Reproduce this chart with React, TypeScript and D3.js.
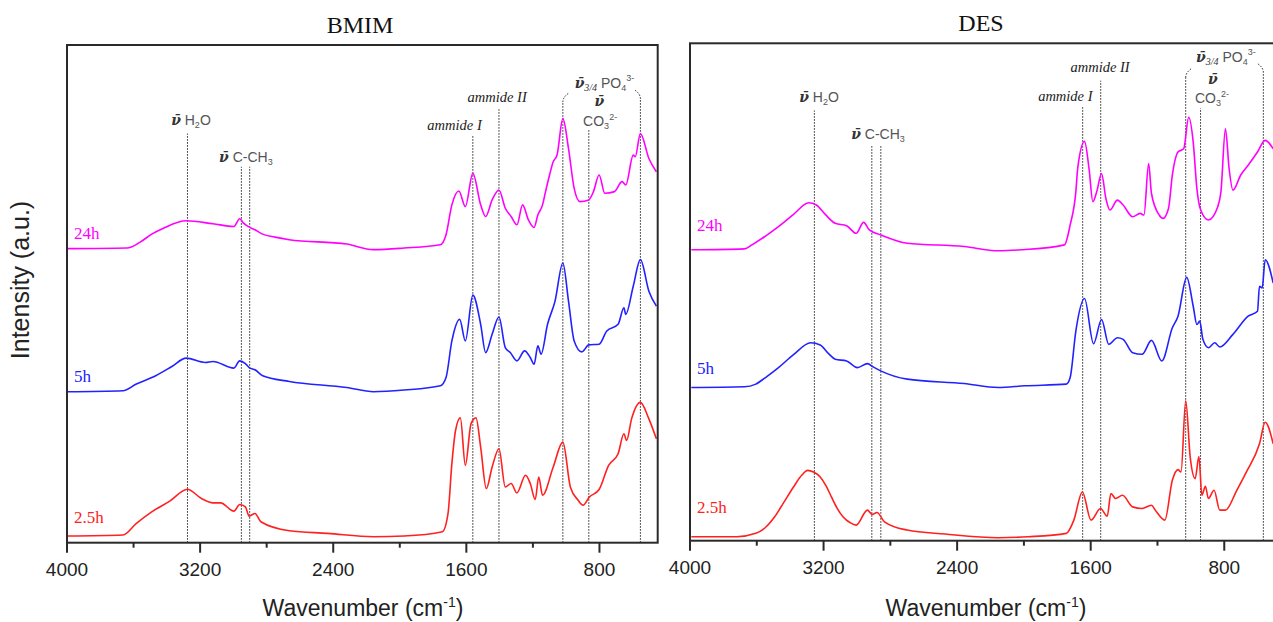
import React from "react";
import * as d3 from "d3";

const WIDTH = 1273;
const HEIGHT = 622;

// ---- axis / tick definitions ----
const wnDomain: [number, number] = [4000, 450];
const yDomain: [number, number] = [0, 500];
const majorTicks = [4000, 3200, 2400, 1600, 800];
const minorTicks = [3600, 2800, 2000, 1200];
const timeLabels = ["24h", "5h", "2.5h"];
const seriesColors = ["#ff00ff", "#2222ff", "#ff2020"];
const panelTitles = ["BMIM", "DES"];

// ---- BMIM spectra: [wavenumber, intensity a.u.] ----
const bmim24h: [number, number][] = [
  [3996, 295.4], [3640, 296], [3560, 302], [3491, 310], [3420, 316], [3284, 323.4], [3123, 320.4], [2997, 317.7],
  [2962, 325.4], [2939, 321], [2893, 316], [2871, 314.4], [2824, 310], [2750, 307], [2664, 304.4],
  [2319, 300], [2158, 294.4], [1974, 296], [1756, 299.4], [1722, 309.4], [1687, 339.4],
  [1645, 353.4], [1606, 337.7], [1561, 371], [1514, 339.4], [1484, 327.7], [1445, 344.4],
  [1404, 354.4], [1366, 336], [1331, 327.7], [1296, 319.4], [1262, 339.4], [1227, 324.4],
  [1193, 316.7], [1170, 329.4], [1142, 339.4], [1124, 352.7], [1100, 369.4], [1078, 382.7],
  [1055, 389.4], [1020, 426], [986, 396], [952, 356], [917, 342.7], [864, 344.4],
  [836, 352.7], [802, 369.4], [768, 351], [710, 352.7], [664, 362.7], [642, 359.4],
  [597, 389.4], [585, 387.7], [554, 411], [503, 386], [458, 372.7],
];
const bmim5h: [number, number][] = [
  [3996, 151.7], [3664, 152.7], [3583, 159.4], [3467, 167.7], [3370, 177], [3284, 185.4], [3169, 181],
  [3123, 182], [2997, 175.4], [2962, 182.7], [2928, 180], [2905, 176], [2870, 173.7],
  [2824, 167.7], [2664, 162], [2319, 156], [2158, 151.7], [1974, 153.4], [1756, 157.7],
  [1722, 166], [1687, 202.7], [1640, 224.4], [1606, 202.7], [1561, 248.7], [1514, 219.4],
  [1484, 191], [1445, 209.4], [1404, 226.7], [1366, 196], [1336, 191], [1296, 182.7],
  [1250, 192.7], [1216, 186], [1193, 179.4], [1170, 197.7], [1151, 189.4], [1112, 219.4],
  [1067, 242.7], [1020, 281], [986, 242.7], [952, 202.7], [906, 191.7], [864, 198.7],
  [802, 199.4], [756, 212.7], [688, 219.4], [653, 236], [642, 229.4], [597, 257.7],
  [554, 284.4], [503, 252.7], [458, 237.7],
];
const bmim2_5h: [number, number][] = [
  [3996, 6.7], [3664, 7.7], [3583, 19.4], [3491, 31], [3380, 42], [3277, 53.7], [3192, 44.4],
  [3123, 40], [3077, 40], [2997, 31.7], [2962, 38.4], [2928, 36], [2905, 26.7],
  [2870, 29.4], [2835, 21], [2664, 12], [2434, 9.4], [2158, 6], [1974, 6.7],
  [1744, 11], [1710, 29.4], [1687, 79.4], [1665, 112.7], [1636, 125.4], [1606, 77.7],
  [1572, 119.4], [1542, 125.4], [1514, 96], [1480, 54.4], [1445, 76], [1404, 94.4],
  [1366, 56], [1331, 59.4], [1296, 50], [1244, 67.7], [1216, 59.4], [1186, 43.4],
  [1165, 66], [1142, 47.7], [1078, 76], [1020, 101], [975, 56], [928, 42.7],
  [899, 37.7], [860, 46], [802, 53.4], [745, 77.7], [688, 89.4], [653, 109.4],
  [637, 102.7], [607, 124.4], [554, 141], [503, 124.4], [458, 104.4],
];

// ---- DES spectra ----
const des24h: [number, number][] = [
  [3992, 292.4], [3674, 293.4], [3629, 297.4], [3550, 306], [3470, 315.7], [3380, 328], [3289, 339.7], [3243, 337.4],
  [3190, 328], [3130, 319], [3062, 316.7], [3005, 309], [2960, 320], [2926, 312.4], [2858, 307.4],
  [2699, 299], [2358, 295.7], [2154, 291.4], [2018, 292.4], [1757, 297.4], [1723, 317.4],
  [1689, 350.7], [1678, 374], [1637, 401.4], [1610, 374], [1587, 340.7], [1564, 350.7],
  [1535, 369], [1509, 344], [1485, 332.4], [1440, 342.4], [1406, 337.4], [1349, 325.7],
  [1304, 329], [1281, 327.4], [1253, 379], [1236, 349], [1190, 327.4], [1167, 324],
  [1134, 334], [1111, 367.4], [1077, 390.7], [1043, 394], [1013, 425.7], [986, 400.7],
  [964, 354], [941, 332.4], [895, 322.4], [839, 335.7], [820, 350.7], [793, 414],
  [771, 374], [748, 352.4], [702, 367.4], [657, 377.4], [601, 390.7], [555, 402.4],
  [507, 394],
];
const des5h: [number, number][] = [
  [3992, 154], [3674, 154.7], [3606, 157.4], [3540, 165], [3470, 174], [3380, 187], [3277, 199], [3220, 196.7],
  [3170, 188], [3130, 182.4], [3062, 180.7], [2998, 174], [2937, 178], [2903, 174.7], [2858, 170.7],
  [2699, 162.4], [2358, 158], [2154, 154], [1995, 155.7], [1746, 157.4], [1723, 164],
  [1689, 210.7], [1637, 243.4], [1583, 198], [1535, 222.4], [1492, 197.4], [1440, 204],
  [1406, 202.4], [1349, 189], [1292, 187.4], [1236, 201.4], [1174, 180.7], [1111, 214],
  [1077, 225.7], [1025, 264.7], [986, 235.7], [964, 217.4], [947, 220.7], [928, 202.4],
  [895, 194], [857, 199], [827, 194.7], [748, 207.4], [657, 225.7], [601, 230.7],
  [589, 255.7], [573, 254], [555, 282.4], [507, 259],
];
const des2_5h: [number, number][] = [
  [3992, 4], [3720, 4], [3606, 7.4], [3550, 13], [3493, 24], [3440, 38], [3380, 54], [3330, 66], [3295, 70.7],
  [3260, 69], [3220, 64], [3185, 55], [3153, 44], [3120, 33], [3084, 24], [3040, 18], [3005, 15.7], [2937, 30.7], [2910, 26.4],
  [2880, 28.4], [2835, 19], [2699, 10.7], [2472, 6.7], [2154, 3], [1973, 4],
  [1746, 7.4], [1701, 20.7], [1650, 49], [1598, 20.7], [1541, 32.4], [1501, 24.7],
  [1479, 47.4], [1451, 42.4], [1410, 45.7], [1349, 34], [1292, 32.4], [1236, 35.7],
  [1213, 30.7], [1156, 20.7], [1111, 60.7], [1077, 71.4], [1059, 69], [1031, 140.7],
  [1004, 84], [974, 62.4], [952, 84.7], [934, 45.7], [913, 54.7], [895, 42.4],
  [861, 50.7], [827, 30.7], [793, 30.7], [725, 50.7], [668, 69], [589, 97.4],
  [555, 119], [507, 97.4],
];

// ---- annotation marker lines: wavenumber, top intensity ----
const bmimMarkers = [
  { wn: 3276, top: 411 }, { wn: 2952, top: 377.7 }, { wn: 2902, top: 377.7 },
  { wn: 1561, top: 409.7 }, { wn: 1404, top: 435.4 }, { wn: 1020, top: 442.7, slant: 1 },
  { wn: 864, top: 414.4 }, { wn: 554, top: 446, slant: -1 },
];
const desMarkers = [
  { wn: 3255, top: 432.4 }, { wn: 2911, top: 397.4 }, { wn: 2857, top: 397.4 },
  { wn: 1648, top: 435.7 }, { wn: 1540, top: 462.4 }, { wn: 1031, top: 465.7, slant: 1 },
  { wn: 942, top: 434.7 }, { wn: 566, top: 470.7, slant: -1 },
];
// annotation label anchors: [wavenumber, baseline intensity]
const bmimLabelPos = {
  h2o: [3255, 419.7], cch3: [2925, 382.7], am1: [1671, 414.7], am2: [1415, 442.7],
  po4: [770, 456.7], nu: [800, 438.7], co3: [796, 418.7],
};
const desLabelPos = {
  h2o: [3227, 440.7], cch3: [2874, 403.7], am1: [1752, 441.7], am2: [1544, 470.7],
  po4: [790, 481.7], nu: [868, 458.7], co3: [874, 439.7],
};
const bmimTimeLabelY = [304.7, 161, 19.7];
const desTimeLabelY = [311.7, 167.7, 27.7];

const panels = [
  {
    title: panelTitles[0], series: [bmim24h, bmim5h, bmim2_5h], markers: bmimMarkers,
    labels: bmimLabelPos, timeY: bmimTimeLabelY,
    left: 67, right: 657.7, top: 45, bottom: 542.7, titleX: 360, titleY: 33, xLabelX: 363,
  },
  {
    title: panelTitles[1], series: [des24h, des5h, des2_5h], markers: desMarkers,
    labels: desLabelPos, timeY: desTimeLabelY,
    left: 690, right: 1282.7, top: 43.3, bottom: 540.7, titleX: 981, titleY: 31, xLabelX: 986,
  },
];

const NU = "\u03BD\u0304";
const sans = "'Liberation Sans', Arial, sans-serif";
const serif = "'Liberation Serif', 'Times New Roman', serif";

function Nu() {
  return (
    <tspan fontFamily="'DejaVu Serif', serif" fontWeight="bold" fontStyle="italic" fill="#333">
      {NU}
    </tspan>
  );
}

function Panel({ p }: { p: (typeof panels)[number] }) {
  const x = d3.scaleLinear().domain(wnDomain).range([p.left, p.right]);
  const y = d3.scaleLinear().domain(yDomain).range([p.bottom, p.top]);
  const line = d3
    .line<[number, number]>()
    .x((d) => x(d[0]))
    .y((d) => y(d[1]))
    .curve(d3.curveMonotoneX);
  const L = p.labels as Record<string, number[]>;
  const annFill = "#555";
  return (
    <g>
      <text x={p.titleX} y={p.titleY} textAnchor="middle"
        fontFamily={serif} fontSize={24} fill="#111">{p.title}</text>
      {/* marker lines */}
      {p.markers.map((m, i) => {
        const mx = x(m.wn);
        const my = y(m.top);
        const s = (m as any).slant;
        return (
          <g key={i}>
            <line x1={mx} x2={mx} y1={p.bottom} y2={my} stroke="#222" strokeWidth={1}
              strokeDasharray="1.5,1.5" />
            {s ? (
              <path d={`M${mx},${my} Q${mx},${my - 5} ${mx + s * 6},${my - 9}`} fill="none" stroke="#222" strokeWidth={1}
                strokeDasharray="1.5,1.5" />
            ) : null}
          </g>
        );
      })}
      {/* spectra */}
      {p.series.map((s, i) => (
        <path key={i} d={line(s) || ""} fill="none" stroke={seriesColors[i]} strokeWidth={1.6}
          strokeLinejoin="round" />
      ))}
      {/* time labels */}
      {timeLabels.map((t, i) => (
        <text key={t} x={p.left + 7} y={y(p.timeY[i])} fontFamily={serif} fontSize={17}
          fill={seriesColors[i]}>{t}</text>
      ))}
      {/* annotation labels */}
      <text x={x(L.h2o[0])} y={y(L.h2o[1])} textAnchor="middle" fontFamily={sans} fontSize={14} fill={annFill}>
        <Nu /> H<tspan fontSize={9} dy={3}>2</tspan><tspan dy={-3}>O</tspan>
      </text>
      <text x={x(L.cch3[0])} y={y(L.cch3[1])} textAnchor="middle" fontFamily={sans} fontSize={14} fill={annFill}>
        <Nu /> C-CH<tspan fontSize={9} dy={3}>3</tspan>
      </text>
      <text x={x(L.am1[0])} y={y(L.am1[1])} textAnchor="middle" fontFamily={serif} fontStyle="italic"
        fontSize={14.5} fill="#222">ammide I</text>
      <text x={x(L.am2[0])} y={y(L.am2[1])} textAnchor="middle" fontFamily={serif} fontStyle="italic"
        fontSize={14.5} fill="#222">ammide II</text>
      <text x={x(L.po4[0])} y={y(L.po4[1])} textAnchor="middle" fontFamily={sans} fontSize={14} fill={annFill}>
        <Nu /><tspan fontSize={10} dy={3} fill="#333" fontFamily={serif} fontStyle="italic">3/4</tspan>
        <tspan dy={-3}> PO</tspan><tspan fontSize={9} dy={3}>4</tspan>
        <tspan fontSize={9} dy={-10}>3-</tspan>
      </text>
      <text x={x(L.nu[0])} y={y(L.nu[1])} textAnchor="middle" fontSize={14}><Nu /></text>
      <text x={x(L.co3[0])} y={y(L.co3[1])} textAnchor="middle" fontFamily={sans} fontSize={14} fill={annFill}>
        CO<tspan fontSize={9} dy={3}>3</tspan><tspan fontSize={9} dy={-9}>2-</tspan>
      </text>
      {/* frame */}
      <rect x={p.left} y={p.top} width={p.right - p.left} height={p.bottom - p.top} fill="none"
        stroke="#2a2a2a" strokeWidth={2} />
      {/* ticks */}
      {majorTicks.map((t) => (
        <g key={"M" + t}>
          <line x1={x(t)} x2={x(t)} y1={p.bottom} y2={p.bottom + 10} stroke="#2a2a2a" strokeWidth={2} />
          <text x={x(t)} y={p.bottom + 33} textAnchor="middle" fontFamily={sans} fontSize={19}
            fill="#222">{t}</text>
        </g>
      ))}
      {minorTicks.map((t) => (
        <line key={"m" + t} x1={x(t)} x2={x(t)} y1={p.bottom} y2={p.bottom + 5} stroke="#2a2a2a"
          strokeWidth={2} />
      ))}
      <text x={p.xLabelX} y={616} textAnchor="middle" fontFamily={sans}
        fontSize={23} fill="#222">
        Wavenumber (cm<tspan fontSize={14} dy={-9}>-1</tspan><tspan dy={9}>)</tspan>
      </text>
    </g>
  );
}

export default function App() {
  return (
    <svg width={WIDTH} height={HEIGHT} style={{ position: "absolute", left: 0, top: 0, background: "#fff" }}>
      <rect width={WIDTH} height={HEIGHT} fill="#fff" />
      <text transform="translate(29,280) rotate(-90)" textAnchor="middle" fontFamily={sans}
        fontSize={25} fill="#222">Intensity (a.u.)</text>
      {panels.map((p) => (
        <Panel key={p.title} p={p} />
      ))}
    </svg>
  );
}
